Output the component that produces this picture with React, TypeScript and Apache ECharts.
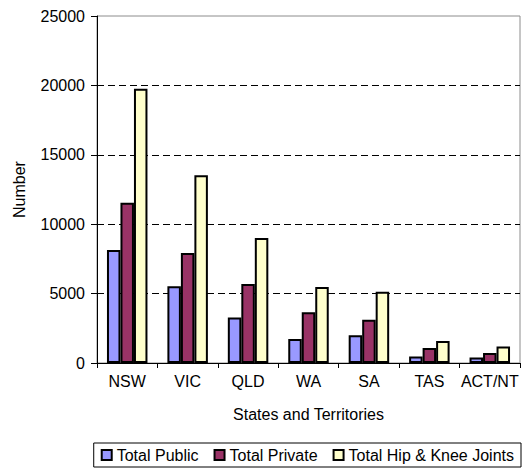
import React, { useEffect, useRef } from "react";
import * as echarts from "echarts";

const categories = ["NSW", "VIC", "QLD", "WA", "SA", "TAS", "ACT/NT"];
const totalPublic = [8150, 5530, 3270, 1730, 2000, 460, 390];
const totalPrivate = [11550, 7930, 5700, 3650, 3120, 1080, 720];
const totalHipKnee = [19750, 13520, 9010, 5480, 5140, 1590, 1180];
const gridLines = [5000, 10000, 15000, 20000];

const FONT = "Liberation Sans";
const FS = 16;

export default function App() {
  const ref = useRef<HTMLDivElement>(null);
  useEffect(() => {
    if (!ref.current) return;
    const chart = echarts.init(ref.current, undefined, { renderer: "svg" });
    const barStyle = (color: string) => ({
      color,
      borderColor: "#000",
      borderWidth: 2,
    });
    chart.setOption({
      animation: false,
      textStyle: { fontFamily: FONT },
      grid: {
        left: 97,
        right: 2,
        top: 16,
        bottom: 105,
        show: true,
        borderColor: "#8c8c8c",
        borderWidth: 1,
        backgroundColor: "#fff",
      },
      legend: {
        bottom: 1,
        right: 1,
        padding: [4, 7, 4, 7],
        borderColor: "#000",
        borderWidth: 1,
        itemWidth: 10,
        itemHeight: 10,
        itemGap: 15,
        icon: "rect",
        textStyle: { fontFamily: FONT, fontSize: FS, color: "#000" },
        itemStyle: { borderColor: "#000", borderWidth: 2 },
        data: ["Total Public", "Total Private", "Total Hip & Knee Joints"],
      },
      xAxis: {
        type: "category",
        data: categories,
        name: "States and Territories",
        nameLocation: "middle",
        nameGap: 43,
        nameTextStyle: { fontFamily: FONT, fontSize: FS, color: "#000" },
        axisLine: { lineStyle: { color: "#000", width: 1 } },
        axisTick: { show: true, length: 5, lineStyle: { color: "#000" } },
        axisLabel: { fontFamily: FONT, fontSize: FS, color: "#000", margin: 10, interval: 0 },
      },
      yAxis: {
        type: "value",
        min: 0,
        max: 25000,
        interval: 5000,
        name: "Number",
        nameLocation: "middle",
        nameGap: 70,
        nameTextStyle: { fontFamily: FONT, fontSize: FS, color: "#000" },
        axisLine: { show: true, lineStyle: { color: "#000", width: 1 } },
        axisTick: { show: true, length: 6, lineStyle: { color: "#000" } },
        axisLabel: {
          fontFamily: FONT,
          fontSize: FS,
          color: "#000",
          margin: 12,
          formatter: (v: number) => String(v),
        },
        splitLine: { show: false },
      },
      series: [
        {
          name: "Total Public",
          type: "bar",
          data: totalPublic,
          barGap: "0%",
          barCategoryGap: "33%",
          itemStyle: barStyle("#9999FF"),
          markLine: {
            silent: true,
            symbol: "none",
            label: { show: false },
            lineStyle: { color: "#000", type: [7, 4], width: 1 },
            data: gridLines.map((v) => ({ yAxis: v })),
            z: 0,
          },
          z: 2,
        },
        {
          name: "Total Private",
          type: "bar",
          data: totalPrivate,
          barGap: "0%",
          barCategoryGap: "33%",
          itemStyle: barStyle("#993366"),
          z: 2,
        },
        {
          name: "Total Hip & Knee Joints",
          type: "bar",
          data: totalHipKnee,
          barGap: "0%",
          barCategoryGap: "33%",
          itemStyle: barStyle("#FFFFCC"),
          z: 2,
        },
      ],
    });
    return () => chart.dispose();
  }, []);
  return (
    <div
      ref={ref}
      style={{ position: "fixed", left: 0, top: 0, width: 522, height: 468, background: "#fff" }}
    />
  );
}
